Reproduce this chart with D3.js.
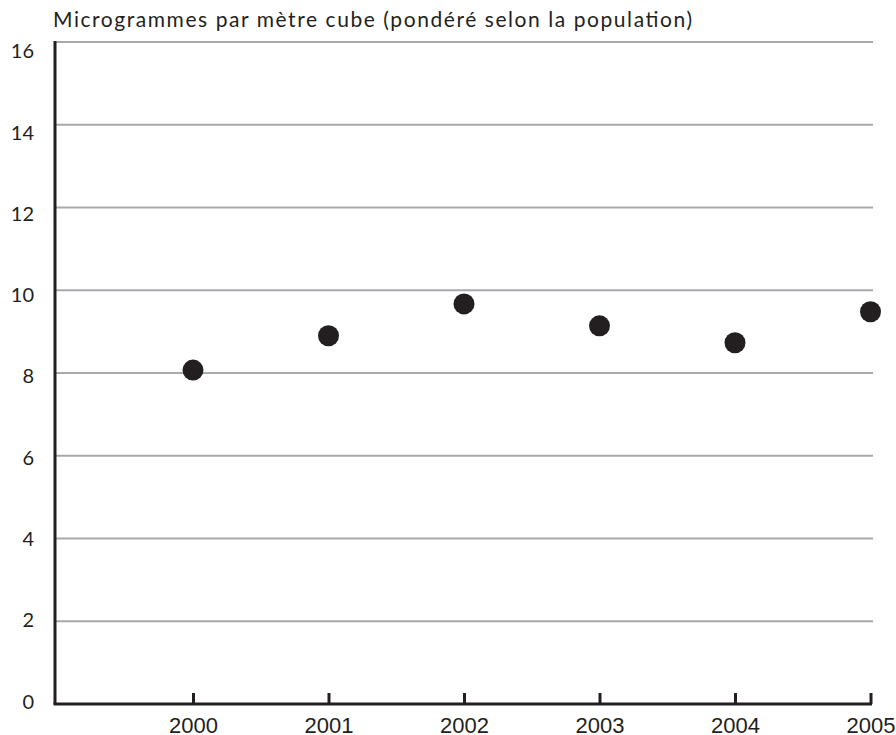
<!DOCTYPE html>
<html><head><meta charset="utf-8">
<script src="https://cdn.jsdelivr.net/npm/d3@7"></script>
<style>body{margin:0;background:#fff}</style>
</head><body>
<script>
const years = [2000, 2001, 2002, 2003, 2004, 2005];
const values = [8.07, 8.90, 9.67, 9.14, 8.73, 9.48];
const yTicks = [0, 2, 4, 6, 8, 10, 12, 14, 16];
const title = "Microgrammes par mètre cube (pondéré selon la population)";

const W = 896, H = 735;
const svg = d3.select("body").append("svg").attr("width", W).attr("height", H);

const x = d3.scaleLinear().domain([1999, 2005]).range([57.5, 870.5]);
const y = d3.scaleLinear().domain([0, 16]).range([704, 42]);
const yLab = d3.scaleLinear().domain([0, 16]).range([701.5, 51]);
const axisX0 = 55;

// gridlines
svg.append("g").selectAll("line").data(yTicks.filter(d => d > 0)).join("line")
  .attr("x1", axisX0).attr("x2", 873)
  .attr("y1", d => y(d)).attr("y2", d => y(d))
  .attr("stroke", "#a7a9ac").attr("stroke-width", 2);

// y labels
svg.append("g").selectAll("text").data(yTicks).join("text")
  .attr("x", 34).attr("y", d => yLab(d)).attr("dy", "0.36em")
  .attr("text-anchor", "end")
  .attr("font-family", "Lato, sans-serif").attr("font-size", 20)
  .attr("fill", "#231f20").text(d => d);

// x axis
const xAxis = d3.axisBottom(x).tickValues(years).tickFormat(d3.format("d")).tickSize(-11);
const gx = svg.append("g").attr("transform", `translate(0,${y(0)})`).call(xAxis);
gx.select(".domain").remove();
gx.selectAll(".tick line").attr("stroke", "#231f20").attr("stroke-width", 3);
gx.selectAll(".tick text").attr("y", 29).attr("dy", null)
  .attr("font-family", "'Liberation Sans', Arial, sans-serif").attr("font-size", 22).attr("fill", "#231f20");
gx.append("line").attr("x1", axisX0 - 1.5).attr("x2", x(2005) + 1.5).attr("y1", 0).attr("y2", 0)
  .attr("stroke", "#231f20").attr("stroke-width", 3);

// y axis line
svg.append("line").attr("x1", axisX0).attr("x2", axisX0).attr("y1", y(16) - 1).attr("y2", y(0))
  .attr("stroke", "#231f20").attr("stroke-width", 3);

// points
svg.append("g").selectAll("circle").data(years).join("circle")
  .attr("cx", d => x(d)).attr("cy", (d, i) => y(values[i])).attr("r", 10.5)
  .attr("fill", "#231f20");

// title
svg.append("text").attr("x", 53).attr("y", 27)
  .attr("font-family", "Lato, sans-serif").attr("font-size", 21)
  .attr("textLength", 639).attr("lengthAdjust", "spacing")
  .attr("fill", "#231f20").text(title);
</script>
</body></html>
